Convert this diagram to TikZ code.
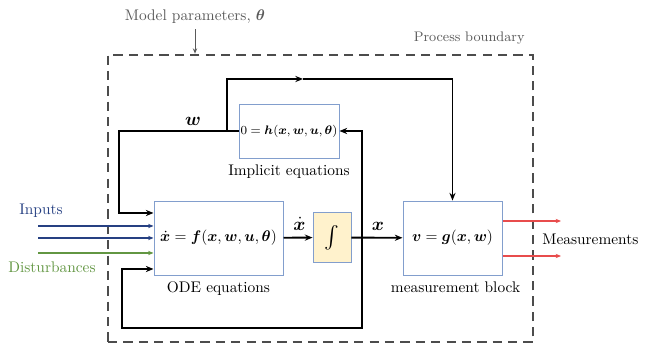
\documentclass[tikz,border=0pt]{standalone}
\usepackage{amsmath,bm}
\usepackage{xcolor}
\usetikzlibrary{arrows.meta,positioning}
\definecolor{BoxBlue}{RGB}{130,158,205}
\definecolor{IntFill}{RGB}{255,242,204}
\definecolor{InBlue}{RGB}{38,64,130}
\definecolor{DistGreen}{RGB}{98,150,66}
\definecolor{MeasRed}{RGB}{232,76,76}
\definecolor{NoteGray}{RGB}{90,90,90}

\begin{document}
\begin{tikzpicture}[
  x=0.65pt,y=-0.65pt,
  block/.style={draw=BoxBlue,fill=white,line width=0.6pt,inner sep=1pt},
  wire/.style={line width=1.2pt},
  flow/.style={wire,-{Stealth[length=5pt,width=4pt]}},
  feed/.style={line width=0.8pt,-{Stealth[length=3.5pt,width=2.8pt]}},
  sig/.style={font=\large},
  caption/.style={inner sep=1pt},
  note/.style={text=NoteGray},
  boundary/.style={draw=NoteGray!85!black,dashed,dash pattern=on 6pt off 4pt,line width=1.2pt}]
\path[use as bounding box] (0,0) rectangle (658,344);
% process boundary and parameters
\node[boundary,minimum width=276.2pt,minimum height=187pt] (proc) at (320.5,198.5) {};
\node[note,anchor=east] (proclab) at (530,38) {\small Process boundary};
\node[note] (params) at (195,17) {Model parameters, $\bm{\theta}$};
\draw[NoteGray,line width=0.6pt,-{Stealth[length=3.5pt,width=2.8pt]}] (params) -- (params |- proc.north);
% blocks
\node[block,minimum width=83.9pt,minimum height=48.1pt] (ode) at (218.5,238) {$\dot{\bm{x}}=\bm{f}(\bm{x},\bm{w},\bm{u},\bm{\theta})$};
\node[block,minimum width=65pt,minimum height=35.1pt,font=\footnotesize] (impl) at (289,131) {$0=\bm{h}(\bm{x},\bm{w},\bm{u},\bm{\theta})$};
\node[block,fill=IntFill,minimum width=24.7pt,minimum height=31.9pt,font=\Large] (integ) at (332,237.5) {$\int$};
\node[block,minimum width=64.4pt,minimum height=48.1pt] (meas) at (452.5,238) {$\bm{v}=\bm{g}(\bm{x},\bm{w})$};
\node[caption,below=3pt of impl] (impllab) {Implicit equations};
\node[caption,below=3pt of ode] (odelab) {ODE equations};
\node[caption,below=3pt of meas,xshift=2pt] (measlab) {measurement block};
% signals
\coordinate (j) at (362,238);
\coordinate (wc) at (119,213);
\coordinate (wj) at (227,131);
\coordinate (topmid) at (303,79);
\coordinate (fb) at (122,328);
\coordinate (fbin) at (122,269);
\draw[flow] (ode) -- (integ) node[midway,sig,above=1pt,xshift=1pt] (xdotlab) {$\dot{\bm{x}}$};
\draw[flow] (integ) -- (meas) node[pos=0.52,sig,above=1pt] (xlab) {$\bm{x}$};
\draw[flow] (j) |- (impl.east);
\draw[flow] (j) |- (fb) -- (fbin) -- (ode.west |- fbin);
\draw[flow] (impl.west) -| (wc) -- (ode.west |- wc);
\node[sig] (wlab) at (193,121) {$\bm{w}$};
\draw[flow] (wj) |- (topmid);
\draw[flow] (topmid) -| (meas.north);
% inputs and outputs
\coordinate (ina) at (38,226);
\coordinate (inb) at (38,238);
\coordinate (inc) at (38,253);
\draw[feed,InBlue] (ina) -- (ode.west |- ina);
\draw[feed,InBlue] (inb) -- (ode.west |- inb);
\draw[feed,DistGreen] (inc) -- (ode.west |- inc);
\node[text=InBlue] (inlab) at (41,211) {Inputs};
\node[text=DistGreen] (distlab) at (52,267) {Disturbances};
\coordinate (outa) at (561,221);
\coordinate (outb) at (561,256);
\draw[feed,MeasRed] (meas.east |- outa) -- (outa);
\draw[feed,MeasRed] (meas.east |- outb) -- (outb);
\node[anchor=west] (outlab) at (537,239) {Measurements};
\end{tikzpicture}
\end{document}
